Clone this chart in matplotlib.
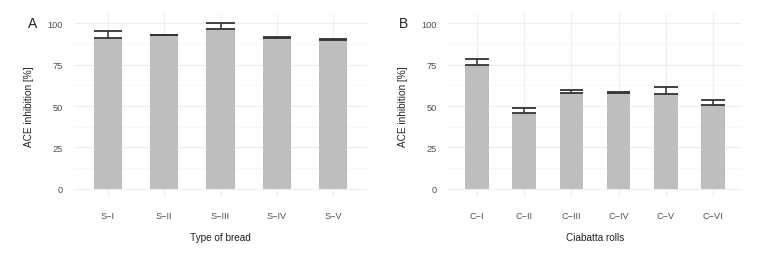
import matplotlib
matplotlib.use("Agg")
import matplotlib.pyplot as plt
import numpy as np

plt.rcParams['font.family'] = ['Liberation Sans', 'DejaVu Sans']

# Panel A data
bread_types = ["S\u2212I", "S\u2212II", "S\u2212III", "S\u2212IV", "S\u2212V"]
bread_values = [91.1, 92.6, 96.2, 90.8, 89.8]
bread_err = [4.3, 0.4, 4.0, 0.8, 0.5]

# Panel B data
ciabatta_types = ["C\u2212I", "C\u2212II", "C\u2212III", "C\u2212IV", "C\u2212V", "C\u2212VI"]
ciabatta_values = [74.5, 45.8, 57.8, 58.0, 57.2, 50.6]
ciabatta_err = [3.8, 3.0, 2.0, 0.3, 4.2, 3.2]

yticks = [0, 25, 50, 75, 100]

W, H = 7.78, 2.55
fig = plt.figure(figsize=(W, H), dpi=100)

bar_color = "#BEBEBE"
err_color = "#333333"
grid_color = "#EFEFEF"
text_color = "#4D4D4D"


def panel(ax, cats, vals, errs, xlabel, letter, letter_x):
    x = np.arange(1, len(cats) + 1)
    ax.bar(x, vals, width=0.5, color=bar_color, zorder=2)
    vals = np.array(vals)
    tops = vals + np.array(errs)
    ax.vlines(x, vals, tops, color=err_color, lw=1.1, zorder=3)
    ax.hlines(vals, x - 0.25, x + 0.25, color=err_color, lw=1.3, zorder=3)
    ax.hlines(tops, x - 0.25, x + 0.25, color=err_color, lw=1.3, zorder=3)
    ax.set_xlim(0.4, len(cats) + 0.6)
    ax.set_ylim(-5.01, 105.2)
    ax.set_xticks(x)
    ax.set_xticklabels(cats)
    ax.set_yticks(yticks)
    ax.set_yticks([12.5, 37.5, 62.5, 87.5], minor=True)
    ax.grid(True, which="major", color=grid_color, lw=0.9, zorder=0)
    ax.grid(True, which="minor", axis="y", color="#F6F6F6", lw=0.6, zorder=0)
    ax.set_axisbelow(True)
    for s in ax.spines.values():
        s.set_visible(False)
    ax.tick_params(axis="both", which="both", length=0, labelsize=6.6,
                   labelcolor=text_color)
    ax.tick_params(axis="x", pad=10.0)
    ax.tick_params(axis="y", pad=8.5)
    ax.set_xlabel(xlabel, fontsize=7.2, color="#222222", va="center")
    ax.xaxis.set_label_coords(0.5, -0.215)
    ax.set_ylabel("ACE inhibition [%]", fontsize=7.2, color="#222222", va="center")
    ax.yaxis.set_label_coords(-0.155, 0.5)
    fig.text(letter_x / 778, 1 - 24 / 255, letter, fontsize=10, color="#222222",
             ha="center", va="center")


bottom = (255 - 198.3) / 255
height = (198.3 - 15.4) / 255
axA = fig.add_axes([74.25 / 778, bottom, (366.75 - 74.25) / 778, height])
axB = fig.add_axes([448.3 / 778, bottom, (741.7 - 448.3) / 778, height])

panel(axA, bread_types, bread_values, bread_err, "Type of bread", "A", 33)
panel(axB, ciabatta_types, ciabatta_values, ciabatta_err, "Ciabatta rolls", "B", 404)

fig.savefig("out.png", dpi=100)
